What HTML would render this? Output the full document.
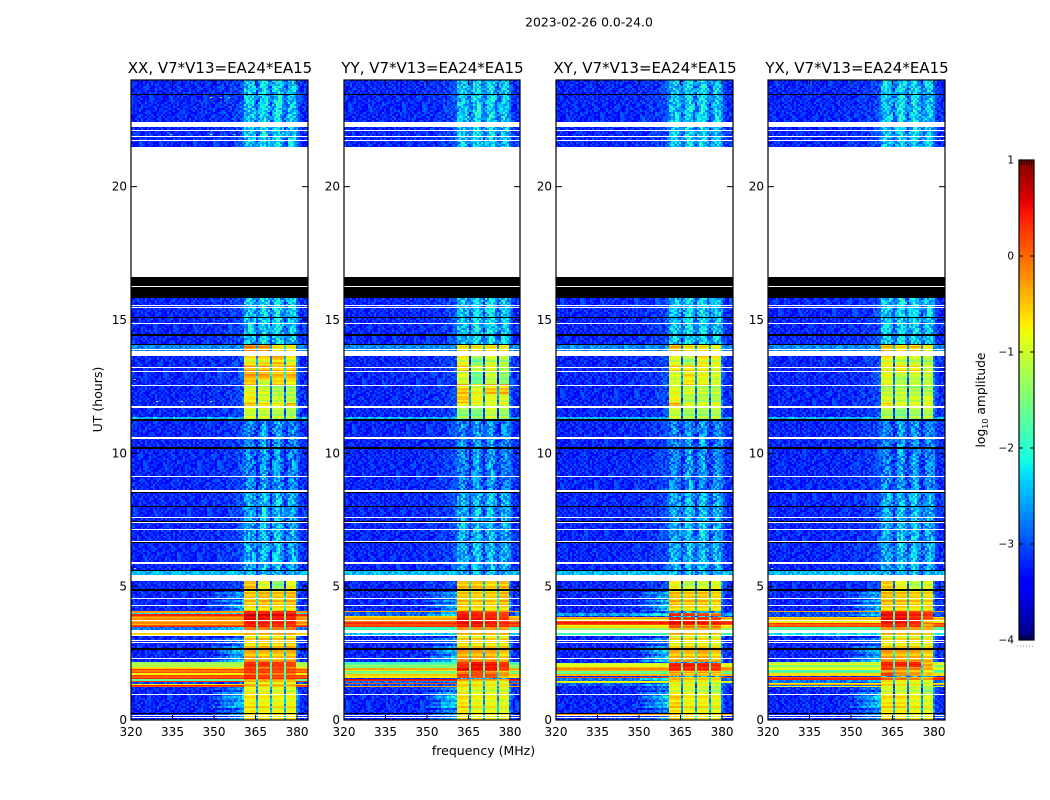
<!DOCTYPE html>
<html>
<head>
<meta charset="utf-8">
<title>2023-02-26 0.0-24.0</title>
<style>
html,body{margin:0;padding:0;background:#fff;width:1050px;height:800px;overflow:hidden}
#figure{position:relative;width:1050px;height:800px;background:#fff}
canvas{position:absolute;top:80px;image-rendering:pixelated}
svg{position:absolute;left:0;top:0}
text{font-family:"DejaVu Sans","Liberation Sans",sans-serif;fill:#000}
</style>
</head>
<body>
<div id="figure">
<canvas id="c0" width="177" height="640" style="left:131px"></canvas>
<canvas id="c1" width="176" height="640" style="left:344px"></canvas>
<canvas id="c2" width="177" height="640" style="left:556px"></canvas>
<canvas id="c3" width="177" height="640" style="left:768px"></canvas>
<svg id="overlay" width="1050" height="800">
<text x="589" y="26.5" font-size="12.4" text-anchor="middle">2023-02-26 0.0-24.0</text>
<text x="483.5" y="755" font-size="12.5" text-anchor="middle">frequency (MHz)</text>
<text x="102" y="399.5" font-size="12.5" text-anchor="middle" transform="rotate(-90 102 399.5)">UT (hours)</text>
<text x="985" y="400" font-size="12.3" text-anchor="middle" transform="rotate(-90 985 400)">log<tspan font-size="8" dy="3">10</tspan><tspan dy="-3"> amplitude</tspan></text>
</svg>
</div>
<script>
// ---------- data (UT hours, MHz, log10 amplitude) ----------
const panelTitles = ["XX, V7*V13=EA24*EA15","YY, V7*V13=EA24*EA15","XY, V7*V13=EA24*EA15","YX, V7*V13=EA24*EA15"];
const panelNames = ["xx","yy","xy","yx"];
const freqTicks = [320,335,350,365,380];
const utTicks = [0,5,10,15,20];
const colorbarTicks = [-4,-3,-2,-1,0,1];
const channelStartMHz = 320;
const channelWidthMHz = 0.727;
// sub-band frequency limits
const subBandLow = [360.5,365.7,370.8,375.9];
const subBandHigh = [364.9,370.0,375.1,379.9];
// typical spectrum in quiet time, one value per channel
const quietSpectrum = [
-3.2,-3.2,-3.25,-3.2,-3.2,-3.2,-3.25,-3.2,-3.2,-3.2,-3.2,-3.25,-3.2,-3.2,-3.2,-3.2,-3.25,-3.2,-3.2,-3.2,
-3.2,-3.2,-3.25,-3.2,-3.2,-3.2,-3.2,-3.2,-3.2,-3.2,-3.2,-3.2,-3.2,-3.2,-3.2,-3.15,-3.2,-3.2,-3.15,-3.2,
-3.15,-3.15,-3.2,-3.15,-3.15,-3.15,-3.15,-3.1,-3.15,-3.1,-3.1,-3.1,-3.05,-3.05,-3.0,-2.95,
-2.6,-2.5,-2.4,-2.5,-2.55,-2.65,-3.0,
-2.75,-2.45,-2.3,-2.25,-2.45,-2.7,-3.0,
-2.65,-2.45,-2.25,-2.25,-2.5,-2.7,-3.0,
-2.8,-2.55,-2.45,-2.4,-2.55,-2.7,-3.05,-3.15,-3.2,-3.15,-3.2,-3.2];
// UT ranges with no data (white)
const missingBands = [[22.25,22.41],[22.07,22.11],[21.85,21.89],[21.70,21.74],[16.6,21.47],[16.23,16.27],[15.53,15.57],[15.46,15.5],[14.84,14.88],[13.87,13.91],[13.66,13.82],[13.19,13.23],[13.04,13.08],[12.53,12.57],[11.75,11.79],[11.7,11.74],[10.53,10.6],[9.1,9.14],[8.56,8.63],[7.58,7.62],[7.37,7.41],[7.11,7.15],[6.68,6.72],[5.9,5.94],[5.85,5.89],[5.23,5.42],[4.52,4.56],[4.26,4.3],[3.7,3.74],[3.27,3.39],[3.16,3.2],[2.97,3.01],[2.89,2.93],[2.3,2.34],[1.53,1.55],[0.93,0.97],[0.15,0.19],[0.06,0.1]];
// UT ranges flagged to zero amplitude (black)
const zeroBands = [[23.45,23.49],[16.27,16.6],[15.82,16.23],[15.06,15.1],[14.41,14.47],[14.05,14.09],[11.23,11.3],[10.18,10.22],[8.52,8.56],[8.0,8.04],[7.42,7.48],[6.64,6.68],[5.6,5.64],[4.84,4.91],[2.64,2.7],[0.22,0.28]];
// raised off-band level [utLow, utHigh, level]
const raisedOffBands = [[5.42,5.58,-2.45],[11.3,11.36,-2.5],[13.82,14.05,-2.7]];
// quiet sub-band brightness changes [utLow, utHigh, delta]
const quietBandDeltas = [[21.5,24,0.1],[14,16,0.1],[8.5,11.2,-0.25],[5.5,8.5,-0.05]];
// isolated bright pixels [ut, MHz, level, panel]
const hotPixels = [[23.36,348.5,-0.9,0],[23.36,352,-1.9,0],[23.36,355,-1.9,0],[21.96,348.5,-0.9,0],[21.96,334,-1.6,0],[21.96,357,-1.6,0],[12.8,321,-0.3,0],[11.98,329,-0.9,0],[11.98,338,-1.4,0],[11.98,348.5,-0.6,0],[5.7,321,-1.6,0],[5.7,321,-1.6,3]];
// row tables: [utLow, utHigh, offBand, shoulder, band1, band2, band3, band4]
const xxRows = [
[11.28,11.7,null,null,-1.05,-1.1,-1.2,-1.25],[11.7,11.9,null,null,-0.6,-0.7,-0.8,-0.5],[11.9,12.2,null,null,-0.75,-1.05,-1.1,-1.2],[12.2,12.55,null,null,-0.85,-0.95,-1.2,-1.2],[12.55,12.75,null,null,-0.55,-1.1,-0.65,-0.75],[12.75,13.3,null,null,-0.35,-0.4,-0.5,-0.45],[13.3,13.66,null,null,-0.8,-0.75,-0.55,-0.9],[13.82,14.07,null,null,-0.2,-0.3,-0.75,-0.75],
[4.89,5.23,null,null,-0.55,-1.0,-1.5,-0.9],[4.3,4.84,null,-2.7,-0.55,-0.5,-0.55,-0.5],[4.08,4.3,null,-2.5,-0.65,-0.6,-0.6,-0.6],
[4.02,4.08,-0.3,null,0.1,0.1,0.05,0.05],[3.98,4.02,-2.2,null,0.2,0.15,0.15,0.1],[3.85,3.98,-0.05,null,0.35,0.3,0.25,0.2],[3.74,3.85,-0.2,null,0.3,0.25,0.2,0.15],[3.55,3.7,-0.3,null,0.15,0.15,0.1,0.05],[3.48,3.55,0.1,null,0.2,0.15,0.1,0.1],[3.39,3.48,-2.8,-2.4,-0.15,-0.2,-0.2,-0.2],
[3.2,3.27,-0.7,null,-0.5,-0.5,-0.5,-0.5],[2.67,3.2,null,-2.8,-0.65,-0.55,-0.6,-0.55],[2.19,2.67,null,-2.5,-0.4,-0.5,-0.5,-0.45],
[2.1,2.19,-1.1,null,0.15,0.15,0.1,0.05],[2.0,2.1,-1.2,null,0.1,0.05,0.05,-0.05],[1.9,2.0,-0.6,null,-0.1,-0.15,-0.1,-0.15],[1.78,1.9,-0.15,null,0.05,0.0,-0.05,-0.05],[1.7,1.78,-0.85,null,-0.2,-0.25,-0.3,-0.3],[1.55,1.7,-0.05,null,0.1,0.0,-0.05,-0.05],
[1.47,1.52,-1.8,null,-0.5,-0.5,-0.5,-0.5],[1.42,1.47,0.05,null,-0.3,-0.35,-0.4,-0.4],[1.35,1.42,-3.0,-2.6,-0.6,-0.6,-0.65,-0.65],[1.3,1.35,-0.8,null,-0.6,-0.6,-0.65,-0.65],[1.24,1.3,0.0,null,-0.45,-0.5,-0.5,-0.5],
[0.97,1.24,null,-2.7,-0.85,-0.9,-0.95,-1.0],[0.5,0.93,null,-2.4,-0.75,-0.8,-0.85,-0.85],[0,0.5,null,-2.7,-0.65,-0.7,-0.75,-0.75]];
const yyRows = [
[11.28,11.7,null,null,-1.4,-1.5,-1.1,-1.3],[11.7,11.9,null,null,-0.9,-1.0,-1.0,-1.0],[11.9,12.2,null,null,-0.55,-0.85,-0.95,-1.0],[12.2,12.6,null,null,-0.5,-0.85,-0.5,-0.45],[12.6,13.05,null,null,-1.0,-1.6,-1.1,-1.4],[13.05,13.3,null,null,-0.6,-1.0,-0.8,-1.1],[13.3,13.66,null,null,-0.9,-1.5,-1.1,-1.2],[13.82,14.07,null,null,-0.7,-0.7,-0.7,-0.8],
[4.89,5.23,null,null,-0.55,-0.55,-0.65,-0.55],[4.3,4.84,null,-2.7,-0.55,-0.6,-0.6,-0.5],[4.08,4.3,null,-2.5,-0.55,-0.55,-0.65,-0.6],
[4.05,4.1,-0.4,null,-0.1,-0.1,-0.15,-0.25],[3.9,4.05,-2.9,-2.4,0.1,0.1,0.05,-0.1],[3.85,3.9,-0.35,null,0.3,0.25,0.2,0.05],[3.74,3.85,-0.35,null,0.3,0.25,0.2,0.1],[3.65,3.7,-0.15,null,0.25,0.2,0.15,0.05],[3.5,3.65,0.05,null,0.2,0.2,0.15,0.05],[3.39,3.5,-2.0,null,-0.3,-0.3,-0.35,-0.4],
[3.2,3.27,-2.4,null,-0.5,-0.5,-0.55,-0.5],[2.67,3.2,null,-2.8,-0.65,-0.65,-0.65,-0.65],[2.19,2.67,null,-2.5,-0.35,-0.4,-0.4,-0.55],
[2.07,2.16,-1.7,null,0.1,0.3,0.25,0.05],[1.96,2.07,-1.4,null,0.1,0.25,0.2,0.05],[1.82,1.96,-0.5,null,0.25,0.2,0.15,-0.1],[1.72,1.82,-1.5,null,-0.2,-0.1,-0.2,-0.4],[1.56,1.72,-0.6,null,0.0,-0.1,-0.1,-0.35],
[1.47,1.53,0.15,null,-0.35,-0.4,-0.4,-0.55],[1.38,1.47,-2.8,-2.6,-0.6,-0.7,-0.75,-0.75],[1.34,1.38,0.15,null,-0.5,-0.6,-0.65,-0.7],[1.28,1.34,-3.0,null,-0.7,-0.75,-0.8,-0.8],[1.22,1.28,-0.3,null,-0.55,-0.65,-0.7,-0.7],
[0.97,1.22,null,-2.7,-0.85,-1.0,-1.0,-1.0],[0.5,0.93,null,-2.3,-0.7,-0.85,-0.85,-0.9],[0,0.5,null,-2.6,-0.65,-0.8,-0.8,-0.85]];
const xyRows = [
[11.28,11.7,null,null,-1.1,-1.3,-1.3,-1.2],[11.7,11.9,null,null,-0.5,-0.9,-1.0,-0.9],[11.9,12.2,null,null,-0.85,-1.25,-1.2,-1.25],[12.2,12.55,null,null,-0.85,-0.95,-1.05,-1.1],[12.55,13.05,null,null,-1.0,-0.7,-0.85,-1.0],[13.05,13.3,null,null,-0.6,-0.6,-0.7,-0.85],[13.3,13.66,null,null,-1.0,-1.3,-0.8,-0.9],[13.82,14.07,null,null,-0.45,-0.7,-0.75,-0.9],
[4.89,5.23,null,null,-0.85,-1.2,-1.1,-0.95],[4.3,4.84,null,-2.6,-0.5,-0.55,-0.55,-0.65],[4.08,4.3,null,-2.3,-0.55,-0.6,-0.6,-0.65],
[3.9,4.03,-2.6,-2.2,0.05,-0.05,-0.1,-0.2],[3.78,3.88,-0.2,null,0.2,0.05,0.1,0.0],[3.7,3.78,-1.0,null,0.05,0.0,0.0,-0.05],[3.55,3.7,0.05,null,0.25,0.2,0.15,0.1],[3.45,3.55,-0.7,null,-0.1,-0.15,-0.2,-0.2],[3.39,3.45,-1.5,null,-0.5,-0.5,-0.5,-0.5],[3.27,3.39,-1.2,null,-0.5,-0.6,-0.6,-0.7],
[3.2,3.27,-2.0,null,-0.5,-0.6,-0.6,-0.65],[2.7,3.2,null,-2.8,-0.75,-0.7,-0.7,-0.8],[2.19,2.64,null,-2.4,-0.45,-0.5,-0.4,-0.55],
[2.0,2.12,-0.9,null,0.2,0.2,0.2,0.1],[1.97,2.0,-1.5,null,0.05,0.05,0.1,0.0],[1.85,1.97,-0.3,null,0.1,0.05,0.05,0.0],[1.78,1.85,-1.5,null,-0.3,-0.4,-0.35,-0.4],[1.72,1.78,-1.9,null,-0.6,-0.75,-0.7,-0.7],[1.65,1.72,-0.5,null,-0.45,-0.55,-0.55,-0.6],
[1.57,1.62,0.05,null,-0.4,-0.5,-0.5,-0.5],[1.45,1.57,-2.8,-2.4,-0.6,-0.7,-0.7,-0.75],[1.38,1.45,-0.8,null,-0.6,-0.7,-0.7,-0.8],[1.28,1.38,-2.9,-2.6,-0.85,-0.9,-0.9,-1.1],
[0.97,1.28,null,-2.8,-0.95,-1.0,-1.1,-1.25],[0.5,0.93,null,-2.4,-0.6,-0.8,-0.75,-0.85],[0.28,0.5,null,-2.7,-0.6,-0.75,-0.75,-0.85],[0.19,0.22,-0.4,null,-0.5,-0.6,-0.6,-0.7],[0,0.15,null,-2.7,-0.55,-0.65,-0.7,-0.8]];
const yxRows = [
[11.28,11.7,null,null,-1.25,-1.5,-1.3,-1.2],[11.7,11.9,null,null,-0.7,-0.95,-1.0,-1.0],[11.9,12.2,null,null,-1.0,-1.1,-1.05,-0.95],[12.2,12.55,null,null,-1.1,-1.1,-1.2,-1.2],[12.55,13.0,null,null,-0.9,-1.2,-1.1,-1.1],[13.0,13.3,null,null,-0.8,-0.65,-0.65,-0.95],[13.3,13.66,null,null,-0.85,-1.1,-1.1,-1.2],[13.82,14.07,null,null,-0.5,-0.65,-0.55,-0.85],
[4.89,5.23,null,null,-0.6,-0.9,-1.2,-0.95],[4.3,4.84,null,-2.6,-0.5,-0.55,-0.6,-0.65],[4.08,4.3,null,-2.4,-0.55,-0.55,-0.65,-0.6],
[4.04,4.09,-0.4,null,0.0,0.0,-0.1,-0.15],[3.88,4.04,-3.0,-2.5,0.2,0.2,0.1,0.0],[3.8,3.88,-0.4,null,0.25,0.3,0.15,0.0],[3.74,3.8,-0.5,null,0.3,0.3,0.15,-0.15],[3.62,3.7,-0.8,null,0.25,0.25,0.1,-0.5],[3.5,3.62,-0.05,null,0.1,0.1,0.05,-0.25],[3.39,3.5,-1.9,null,-0.35,-0.3,-0.4,-0.5],
[3.2,3.27,-2.2,null,-0.5,-0.6,-0.6,-0.65],[2.7,3.2,null,-2.9,-0.7,-0.7,-0.7,-0.8],[2.19,2.64,null,-2.5,-0.35,-0.4,-0.4,-0.55],
[2.08,2.18,-0.9,null,0.2,0.2,0.2,-0.3],[2.0,2.08,-1.4,null,0.05,0.1,0.15,-0.35],[1.88,2.0,-1.0,null,0.0,-0.2,-0.2,-0.45],[1.75,1.88,-1.7,null,-0.2,-0.3,-0.4,-0.65],[1.65,1.75,-0.7,null,-0.05,-0.3,-0.35,-0.6],
[1.5,1.6,0.0,null,-0.15,-0.25,-0.35,-0.5],[1.38,1.5,-2.8,-2.5,-0.6,-0.7,-0.75,-0.9],[1.33,1.38,-0.5,null,-0.6,-0.7,-0.75,-0.95],[1.28,1.33,-2.9,null,-0.85,-0.9,-1.0,-1.1],[1.24,1.28,-0.9,null,-0.85,-0.9,-1.0,-1.1],
[0.97,1.24,null,-2.8,-1.0,-1.05,-1.1,-1.35],[0.5,0.93,null,-2.4,-0.7,-0.7,-0.85,-0.95],[0,0.5,null,-2.7,-0.65,-0.7,-0.8,-0.85]];
const panelRows = [xxRows,yyRows,xyRows,yxRows];
// hand-noted residual texture (digits 0-9, centred near 4.5) for cell-to-cell scatter
const speckleResiduals = [
"3829105746218390574661293047516280493","7150932846174093285176403972185364027","2964781305926741038925716480293715648",
"5017836294085173692405871362940738152","9347210586937420158639470215869302741","1657840392167854039261758043921586074",
"4290671358420961735482906713584960213","8531972046853197024685319720468273195","0763485129076348152907364581290847361",
"6428059317682405931746820953176025948","2985374106298537401265983741062473859","7140693825714069832571406938257160394",
"3674120985367142098536741209853928406","9852036471985203674198520647119073562","1309578264130957286413095782641564087",
"5726914038572961403857269140385127639","0481265793048126579034812657930493871","8257430619825743601982574306198760254",
"4963107852496310875249631078524315906","6194082735619408723561948027356842190","2730956148273095164827395614870593426",
"9508362417950386241795083624179261835","1846273950184627395018462739509748063"];
// hand-noted row-to-row ripple in the bright sub-bands
const rowRipple = [6,2,7,3,5,1,8,4,6,2,5,7,3,8,2,6,4,7,1,5,8,3,6];
const gapDrop = 1.7;
const strongBandBoost = 0.25;

// ---------- scales ----------
const panelLeft = [131,344,556,768];
const panelWidths = [177,176,177,177];
const plotTop = 80;
const plotHeight = 640;
const pxPerMHz = 2.767;
const pxPerHour = plotHeight/24;
function xOffset(mhz){return (mhz-320)*pxPerMHz;}
function yOffset(ut){return plotHeight-ut*pxPerHour;}
function jetChannel(t,pts){
  for(let i=1;i<pts.length;i++){
    if(t<=pts[i][0]){
      const a=pts[i-1],b=pts[i];
      return a[1]+(b[1]-a[1])*(t-a[0])/(b[0]-a[0]);
    }
  }
  return pts[pts.length-1][1];
}
const jetR=[[0,0],[0.35,0],[0.66,1],[0.89,1],[1,0.5]];
const jetG=[[0,0],[0.125,0],[0.375,1],[0.64,1],[0.91,0],[1,0]];
const jetB=[[0,0.5],[0.11,1],[0.34,1],[0.65,0],[1,0]];
function jetColor(level){
  const t=Math.max(0,Math.min(1,(level+4)/5));
  return "rgb("+Math.round(255*jetChannel(t,jetR))+","+Math.round(255*jetChannel(t,jetG))+","+Math.round(255*jetChannel(t,jetB))+")";
}
const colorLut=[];
for(let i=0;i<=500;i++){colorLut.push(jetColor(-4+i/100));}
function lutColor(level){
  return colorLut[Math.max(0,Math.min(500,Math.round((level+4)*100)))];
}
function inRanges(ut,ranges){
  for(const b of ranges){if(ut>=b[0]&&ut<b[1])return b;}
  return null;
}
function speckle(rowIndex,col){
  const s=speckleResiduals[rowIndex%speckleResiduals.length];
  return (Number(s[(col+rowIndex*3)%s.length])-4.5)/4.5;
}
function subBandOf(mhz){
  for(let b=0;b<4;b++){if(mhz>=subBandLow[b]&&mhz<subBandHigh[b])return b;}
  return -1;
}

// ---------- heatmaps ----------
function drawPanel(p){
  const ctx=document.getElementById("c"+p).getContext("2d");
  const W=panelWidths[p];
  ctx.fillStyle="#fff";
  ctx.fillRect(0,0,W,plotHeight);
  const rowsTable=panelRows[p];
  const rowHours=1/pxPerHour;
  const channels=quietSpectrum.length;
  for(let r=0;r<plotHeight;r++){
    const ut=(plotHeight-r-0.5)*rowHours;
    if(inRanges(ut,missingBands))continue;
    const y=Math.round(yOffset(ut+rowHours/2));
    if(inRanges(ut,zeroBands)){
      ctx.fillStyle="#000";
      ctx.fillRect(0,y,W,1);
      continue;
    }
    const entry=inRanges(ut,rowsTable);
    const raised=inRanges(ut,raisedOffBands);
    const qd=inRanges(ut,quietBandDeltas);
    const rowIdx=Math.floor(ut/0.075);
    const rawRipple=(rowRipple[rowIdx%rowRipple.length]-4.5)*0.07;
    for(let c=0;c<channels;c++){
      const f=channelStartMHz+c*channelWidthMHz+channelWidthMHz/2;
      const band=subBandOf(f);
      const sp=speckle(rowIdx+p*5,c+p*7);
      let v;
      const inSpan=f>=subBandLow[0]&&f<subBandHigh[3];
      if(entry&&inSpan){
        if(band>=0){
          const lvl=entry[4+band];
          v=lvl>-0.15?lvl+strongBandBoost+rawRipple*0.4+sp*0.05:lvl+rawRipple+sp*0.05;
        }else{
          const nb=entry.slice(4,8);
          v=Math.min(nb[0],nb[1],nb[2],nb[3])-gapDrop+sp*0.3;
        }
      }else if(inSpan){
        v=quietSpectrum[c]+(qd?qd[2]:0)+sp*0.45;
      }else{
        let off=quietSpectrum[c];
        let strong=false;
        if(raised){off=raised[2];}
        if(entry&&entry[2]!==null){off=entry[2];strong=off>-2.2;}
        v=off;
        if(entry&&entry[3]!==null&&f>350&&f<subBandLow[0]){
          const w=(f-350)/(subBandLow[0]-350);
          v=off+(entry[3]-off)*w+(rowRipple[rowIdx%rowRipple.length]-4.5)*0.08;
        }
        if(strong){v+=rawRipple*0.8+(off>-0.2?strongBandBoost*0.8:0)+sp*0.05;}
        else{v+=sp*0.3;}
      }
      ctx.fillStyle=lutColor(v);
      const x0=Math.round(xOffset(channelStartMHz+c*channelWidthMHz));
      const x1=Math.round(xOffset(channelStartMHz+(c+1)*channelWidthMHz));
      ctx.fillRect(x0,y,Math.max(1,x1-x0),1);
    }
  }
  for(const h of hotPixels){
    if(h[3]!==p||inRanges(h[0],missingBands))continue;
    ctx.fillStyle=lutColor(h[2]);
    ctx.fillRect(Math.round(xOffset(h[1])),Math.round(yOffset(h[0])),2,1);
  }
}
for(let p=0;p<4;p++){drawPanel(p);}

// ---------- axes ----------
const svg=document.getElementById("overlay");
const NS="http://www.w3.org/2000/svg";
function svgEl(tag,attrs){
  const el=document.createElementNS(NS,tag);
  for(const k in attrs){el.setAttribute(k,attrs[k]);}
  svg.appendChild(el);
  return el;
}
for(let p=0;p<4;p++){
  const L=panelLeft[p];
  const W=panelWidths[p];
  const R=L+W;
  const T=plotTop;
  const B=plotTop+plotHeight;
  const frame=svgEl("rect",{x:L,y:T,width:W,height:plotHeight,fill:"none",stroke:"#000","stroke-width":1.2});
  
  
  const title=svgEl("text",{x:(L+R)/2+0.5,y:73,"font-size":15,"text-anchor":"middle"});
  title.textContent=panelTitles[p];
  
  
  for(const f of freqTicks){
    const x=L+xOffset(f);
    const tb=svgEl("line",{x1:x,x2:x,y1:B,y2:B-5,stroke:"#000","stroke-width":1});
    
    
    const tt=svgEl("line",{x1:x,x2:x,y1:T,y2:T+5,stroke:"#000","stroke-width":1});
    
    
    const lab=svgEl("text",{x:x,y:736,"font-size":12,"text-anchor":"middle"});
    lab.textContent=f;
    
    
  }
  for(const u of utTicks){
    const y=T+yOffset(u);
    const tl=svgEl("line",{x1:L,x2:L+6,y1:y,y2:y,stroke:"#000","stroke-width":1});
    
    
    const tr=svgEl("line",{x1:R,x2:R-6,y1:y,y2:y,stroke:"#000","stroke-width":1});
    
    
    const lab=svgEl("text",{x:L-4,y:y+4,"font-size":12,"text-anchor":"end"});
    lab.textContent=u;
    
    
  }
}

// ---------- colorbar ----------
const cbLeft=1019;
const cbTop=160;
const cbWidth=15;
const cbHeight=480;
const cbMin=-4;
const cbMax=1;
function cbY(level){return cbTop+(cbMax-level)/(cbMax-cbMin)*cbHeight;}
for(let i=0;i<240;i++){
  const hi=cbMax-i*(cbMax-cbMin)/240;
  const lo=hi-(cbMax-cbMin)/240;
  const seg=svgEl("rect",{x:cbLeft,y:cbY(hi),width:cbWidth,height:cbY(lo)-cbY(hi)+0.5,fill:jetColor((hi+lo)/2)});
  
  
}
const cbFrame=svgEl("rect",{x:cbLeft,y:cbTop,width:cbWidth,height:cbHeight,fill:"none",stroke:"#000","stroke-width":1.2});


for(const t of colorbarTicks){
  const y=cbY(t);
  const a=svgEl("line",{x1:cbLeft,x2:cbLeft+4,y1:y,y2:y,stroke:"#000","stroke-width":1});
  
  
  const b=svgEl("line",{x1:cbLeft+cbWidth,x2:cbLeft+cbWidth-4,y1:y,y2:y,stroke:"#000","stroke-width":1});
  
  
  const lab=svgEl("text",{x:1014,y:y+3.5,"font-size":10.5,"text-anchor":"end"});
  lab.textContent=(t<0?"\u2212":"")+Math.abs(t);
  
  
}
for(let i=1;i<6;i++){
  const x=cbLeft+i*2.5;
  const mt=svgEl("line",{x1:x,x2:x,y1:cbTop,y2:cbTop+5,stroke:"#000","stroke-width":0.7});
  
  
  const mb=svgEl("line",{x1:x,x2:x,y1:cbTop+cbHeight,y2:cbTop+cbHeight-5,stroke:"#000","stroke-width":0.7});
  
  
}
const dots=svgEl("line",{x1:1017,x2:1035,y1:646,y2:646,stroke:"#888","stroke-width":1,"stroke-dasharray":"1 2"});


</script>
</body>
</html>
